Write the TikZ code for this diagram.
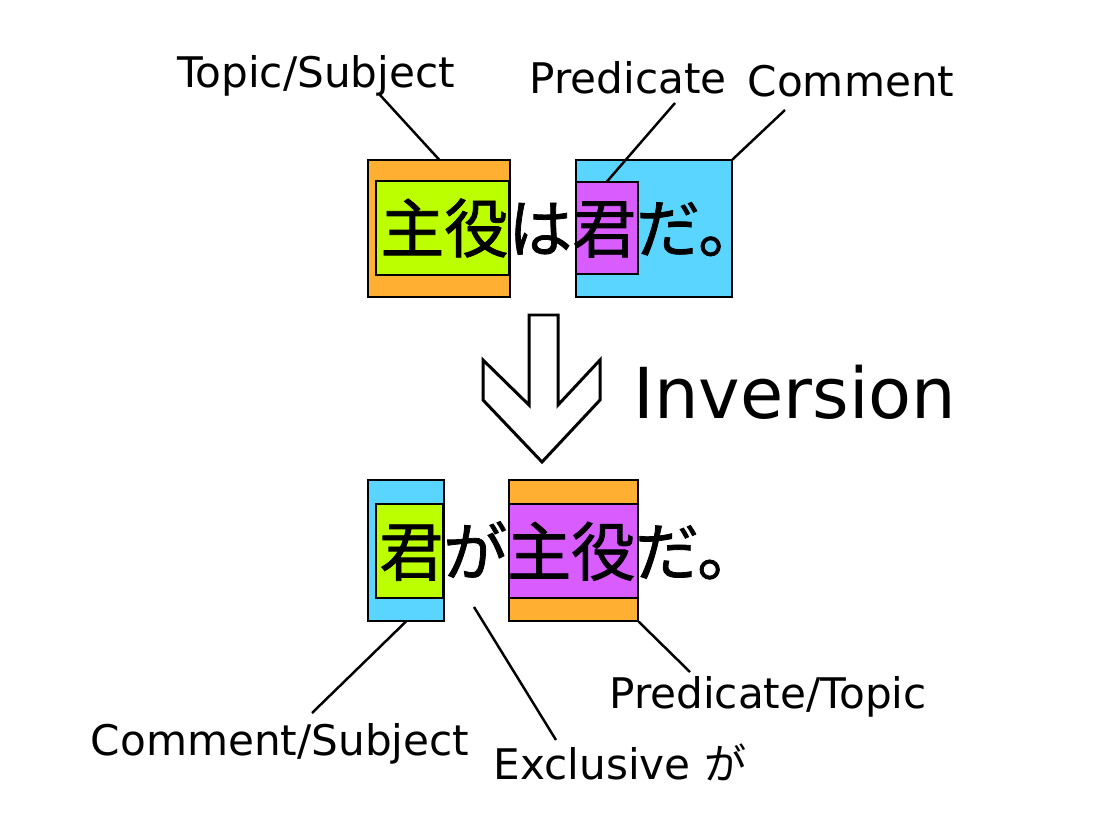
\documentclass[tikz,border=0pt]{standalone}
\usepackage{fontspec}
\setmainfont{Noto Sans CJK JP}
\newfontfamily\jpfont[FakeBold=1.2]{Noto Sans CJK JP}
\newfontfamily\latfont{DejaVu Sans}
\usepackage{xcolor}
\usepackage{tikz}
\usetikzlibrary{positioning}

\definecolor{boxorange}{HTML}{FFB033}
\definecolor{boxlime}{HTML}{BBFF00}
\definecolor{boxsky}{HTML}{5AD5FF}
\definecolor{boxviolet}{HTML}{D95CFF}

\tikzset{
	box/.style={draw, line width=0.6pt, inner sep=0pt},
	lead/.style={line width=1.4pt},
	lbl/.style={font=\latfont\fontsize{24}{28}\selectfont, inner sep=0pt},
	jp/.style={font=\jpfont\fontsize{36.4}{40}\selectfont, inner sep=0pt, anchor=west},
}

\begin{document}
\begin{tikzpicture}[x=0.02cm, y=-0.02cm]
		\useasboundingbox (0,0) rectangle (1111,828);

		% 上の文
		\node[box, fill=boxorange, minimum width=2.84cm, minimum height=2.74cm] (topsubj) at (439,228.5) {};
		\node[box, fill=boxlime, minimum width=2.66cm, minimum height=1.88cm] (topsubjin) at (442.5,228) {};
		\node[box, fill=boxsky, minimum width=3.12cm, minimum height=2.74cm] (topcomm) at (654,228.5) {};
		\node[box, fill=boxviolet, minimum width=1.24cm, minimum height=1.84cm] (toppred) at (607,228) {};
		\node[jp] (topsent) at (380,228) {主役は君だ。};

		% 標注
		\node[lbl] (topiclbl) at (316,76) {Topic/Subject};
		\node[lbl] (predlbl) at (628,78) {Predicate};
		\node[lbl] (commlbl) at (851,81) {Comment};
		\coordinate (topicend) at (380,95);
		\coordinate (predend) at (675,103);
		\coordinate (commend) at (785,110);
		\draw[lead] (topicend) -- (topsubj.north);
		\draw[lead] (predend) -- (toppred.north);
		\draw[lead] (commend) -- (topcomm.north east);

		% 矢印
		\draw[line width=1.7pt, line join=miter] (529,315) -- (558,315) -- (558,405) -- (600,360) -- (600,400)
			-- (542,462) -- (483,400) -- (483,360) -- (529,405) -- cycle;
		\node[font=\latfont\fontsize{40}{46}\selectfont, inner sep=0pt] (invlbl) at (795,392) {Inversion};

		% 下の文
		\node[box, fill=boxsky, minimum width=1.52cm, minimum height=2.82cm] (botcomm) at (406,550.5) {};
		\node[box, fill=boxlime, minimum width=1.34cm, minimum height=1.88cm] (botcommin) at (409.5,551) {};
		\node[box, fill=boxorange, minimum width=2.58cm, minimum height=2.82cm] (botpred) at (573.5,550.5) {};
		\node[box, fill=boxviolet, minimum width=2.58cm, minimum height=1.88cm] (botpredin) at (573.5,551) {};
		\node[jp] (botsent) at (379,551) {君が主役だ。};

		% 標注
		\node[lbl] (csublbl) at (280,744) {Comment/Subject};
		\node[lbl] (exclbl) at (620,762) {Exclusive {\rmfamily が}};
		\node[lbl] (ptoplbl) at (768,697) {Predicate/Topic};
		\coordinate (csubend) at (312,713);
		\coordinate (excend) at (556,740);
		\coordinate (gapoint) at (474,607);
		\coordinate (ptopend) at (690,672);
		\draw[lead] (csubend) -- (botcomm.south);
		\draw[lead] (excend) -- (gapoint);
		\draw[lead] (ptopend) -- (botpred.south east);
	\end{tikzpicture}
\end{document}
